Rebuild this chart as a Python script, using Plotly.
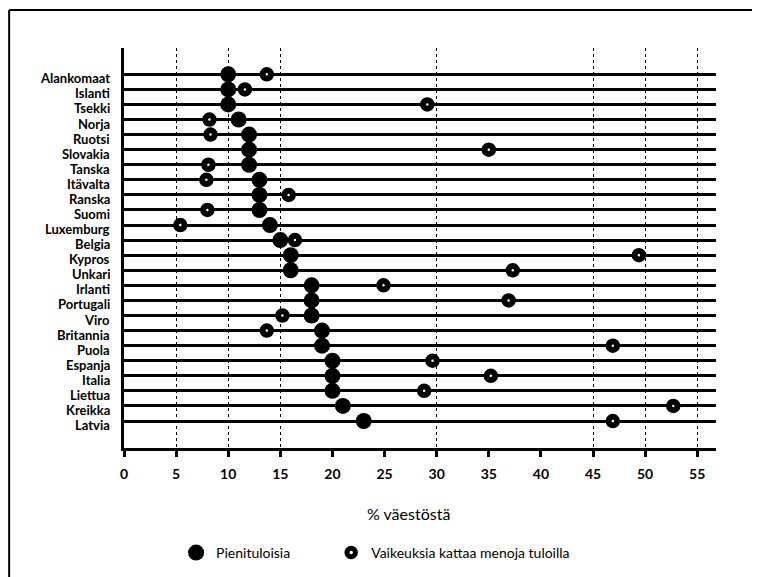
import plotly.graph_objects as go

countries = ['Alankomaat', 'Islanti', 'Tsekki', 'Norja', 'Ruotsi', 'Slovakia', 'Tanska',
             'Itävalta', 'Ranska', 'Suomi', 'Luxemburg', 'Belgia', 'Kypros', 'Unkari',
             'Irlanti', 'Portugali', 'Viro', 'Britannia', 'Puola', 'Espanja', 'Italia',
             'Liettua', 'Kreikka', 'Latvia']
pienituloisia = [10, 10, 10, 11, 12, 12, 12, 13, 13, 13, 14, 15, 16, 16,
                 18, 18, 18, 19, 19, 20, 20, 20, 21, 23]
vaikeuksia = [13.7, 11.6, 29.1, 8.2, 8.3, 35.0, 8.1, 7.9, 15.8, 8.0, 5.4, 16.4, 49.4, 37.3,
              24.9, 36.9, 15.2, 13.7, 46.9, 29.6, 35.2, 28.8, 52.7, 46.9]
x_ticks = [0, 5, 10, 15, 20, 25, 30, 35, 40, 45, 50, 55]
grid_ticks = [5, 10, 15, 30, 45, 50, 55]

font_family = 'Lato, sans-serif'

fig = go.Figure()

# invisible helper so the overlaid grid axis gets drawn
fig.add_trace(go.Scatter(x=pienituloisia, y=countries, xaxis='x2', mode='markers',
                         marker=dict(opacity=0), showlegend=False, hoverinfo='skip'))

fig.add_trace(go.Scatter(x=pienituloisia, y=countries, mode='markers', name='Pienituloisia',
                         legend='legend',
                         marker=dict(color='black', size=16, line=dict(width=0))))
fig.add_trace(go.Scatter(x=vaikeuksia, y=countries, mode='markers',
                         name='Vaikeuksia kattaa menoja tuloilla', legend='legend2',
                         marker=dict(color='white', size=8.5, line=dict(color='black', width=6))))

# page is shown with the browser's 8px body margin, so margins are shifted by 8px
fig.update_layout(width=760, height=577,
                  margin=dict(l=116, r=52, t=40, b=137),
                  paper_bgcolor='white', plot_bgcolor='white',
                  font=dict(family=font_family, size=14, color='black'),
                  showlegend=True,
                  legend=dict(orientation='h', x=0.088, xanchor='left', y=-0.2625, yanchor='middle',
                              font=dict(size=14), itemwidth=30),
                  legend2=dict(orientation='h', x=0.35, xanchor='left', y=-0.2625, yanchor='middle',
                               font=dict(size=14), itemwidth=30),
                  xaxis=dict(range=[0, 56.8], tickmode='array', tickvals=x_ticks,
                             showgrid=False, zeroline=False,
                             showline=True, linecolor='black', linewidth=3,
                             ticks='outside', ticklen=6, tickwidth=3, tickcolor='black',
                             ticklabelstandoff=5,
                             tickfont=dict(size=14, weight='bold')),
                  xaxis2=dict(range=[0, 56.8], overlaying='x', tickvals=grid_ticks, showticklabels=False,
                              showgrid=True, gridcolor='black', gridwidth=1, griddash='dot',
                              zeroline=False, showline=False, ticks=''),
                  yaxis=dict(categoryorder='array', categoryarray=countries,
                             range=[len(countries) - 1 + 1.79, -1.745],
                             tickmode='array', tickvals=countries, showticklabels=False,
                             showgrid=True, gridcolor='black', gridwidth=2.5, zeroline=False,
                             showline=True, linecolor='black', linewidth=2.5, ticks=''),
                  hovermode=False)

# country labels sit a little below their row line, as in the original
for c in countries:
    fig.add_annotation(x=0, xref='paper', xanchor='right', xshift=-12, y=c, yref='y',
                       yshift=-4, text=c, showarrow=False,
                       font=dict(size=13, weight='bold'))

fig.add_annotation(x=0.48, xref='paper', y=-0.1625, yref='paper', yanchor='middle',
                   text='% väestöstä', showarrow=False, font=dict(size=16))

# page frame, top and left edge as in the scanned original
fig.add_shape(type='line', xref='paper', yref='paper', x0=-0.194, x1=1.1, y0=1.095, y1=1.095,
              line=dict(color='black', width=2))
fig.add_shape(type='line', xref='paper', yref='paper', x0=-0.194, x1=-0.194, y0=1.095, y1=-0.4,
              line=dict(color='black', width=2))

fig.write_html('out.html')
